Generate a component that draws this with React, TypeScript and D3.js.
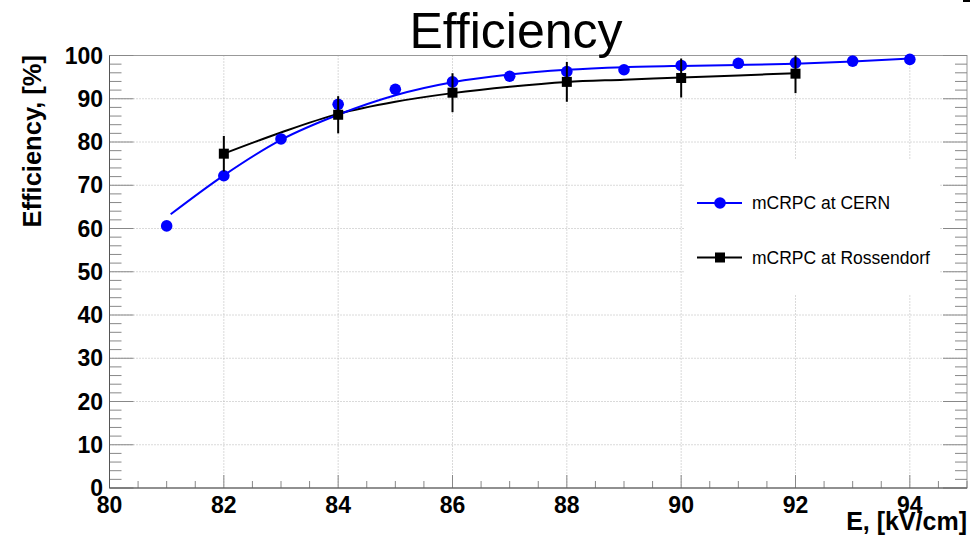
import { useEffect, useRef } from "react";
import * as d3 from "d3";

// CERN measurement (blue circles)
const cernField = [81, 82, 83, 84, 85, 86, 87, 88, 89, 90, 91, 92, 93, 94];
const cernEff = [60.6, 72.2, 80.7, 88.7, 92.2, 93.9, 95.2, 96.3, 96.7, 97.7, 98.2, 98.3, 98.7, 99.1];

// CERN fit curve
const cernFitField = [81.07, 82, 83, 84, 85, 86, 87, 88, 89, 90, 91, 92, 93, 94];
const cernFitEff = [63.3, 72.3, 80.5, 86.3, 90.8, 93.8, 95.6, 96.7, 97.3, 97.6, 97.8, 98.1, 98.6, 99.3];

// Rossendorf measurement (black squares)
const rossField = [82, 84, 86, 88, 90, 92];
const rossEff = [77.3, 86.3, 91.4, 93.9, 94.8, 95.8];
const rossErr = [4.1, 4.3, 4.5, 4.6, 4.5, 4.5];

// Rossendorf fit curve
const rossFitField = [82, 83, 84, 85, 86, 87, 88, 89, 90, 91, 92];
const rossFitEff = [77.3, 82.2, 86.5, 89.3, 91.3, 92.8, 93.9, 94.4, 94.9, 95.4, 95.9];

const xTicks = [80, 82, 84, 86, 88, 90, 92, 94];
const yTicks = [0, 10, 20, 30, 40, 50, 60, 70, 80, 90, 100];

const legendLabels = ["mCRPC at CERN", "mCRPC at Rossendorf"];

const W = 971;
const H = 540;

export default function App() {
  const svgRef = useRef(null);

  useEffect(() => {
    const svg = d3.select(svgRef.current);
    svg.selectAll("*").remove();

    const left = 109.5;
    const right = 967;
    const top = 55.5;
    const bottom = 488;

    const x = d3.scaleLinear().domain([80, 95]).range([left, right]);
    const y = d3.scaleLinear().domain([0, 100]).range([bottom, top]);

    const font = "'Liberation Sans', Arial, Helvetica, sans-serif";

    // grid
    const grid = svg.append("g").attr("stroke", "#b4b4b4").attr("stroke-dasharray", "1,2");
    xTicks.slice(1).forEach((t) => {
      grid.append("line").attr("x1", x(t)).attr("x2", x(t)).attr("y1", top).attr("y2", bottom);
    });
    yTicks.slice(1, -1).forEach((t) => {
      grid.append("line").attr("x1", left).attr("x2", right).attr("y1", y(t)).attr("y2", y(t));
    });

    // legend box (hides the grid behind it)
    svg
      .append("rect")
      .attr("x", 684)
      .attr("y", 160)
      .attr("width", 256)
      .attr("height", 135)
      .attr("fill", "white");

    // frame
    svg
      .append("rect")
      .attr("x", left)
      .attr("y", top)
      .attr("width", right - left)
      .attr("height", bottom - top)
      .attr("fill", "none")
      .attr("stroke", "#999");

    // ticks
    const ticks = svg.append("g").attr("stroke", "#888");
    d3.range(0, 101, 2).forEach((v) => {
      const len = v % 10 === 0 ? 24 : 12;
      ticks.append("line").attr("x1", left).attr("x2", left + len).attr("y1", y(v)).attr("y2", y(v));
      ticks.append("line").attr("x1", right).attr("x2", right - len).attr("y1", y(v)).attr("y2", y(v));
    });
    d3.range(80, 95.01, 0.5).forEach((v) => {
      const len = Math.abs(v % 2) < 1e-6 ? 13 : 7;
      ticks.append("line").attr("x1", x(v)).attr("x2", x(v)).attr("y1", bottom).attr("y2", bottom - len);
    });

    svg
      .append("line")
      .attr("x1", left)
      .attr("x2", right)
      .attr("y1", bottom)
      .attr("y2", bottom)
      .attr("stroke", "#555");
    svg
      .append("line")
      .attr("x1", left)
      .attr("x2", left)
      .attr("y1", top)
      .attr("y2", bottom)
      .attr("stroke", "#555");

    // tick labels
    svg
      .append("g")
      .selectAll("text")
      .data(yTicks)
      .join("text")
      .attr("x", 103)
      .attr("y", (d) => y(d) + 8)
      .attr("text-anchor", "end")
      .attr("font-family", font)
      .attr("font-weight", "bold")
      .attr("font-size", 23)
      .text((d) => d);

    svg
      .append("g")
      .selectAll("text")
      .data(xTicks)
      .join("text")
      .attr("x", (d) => x(d))
      .attr("y", 513)
      .attr("text-anchor", "middle")
      .attr("font-family", font)
      .attr("font-weight", "bold")
      .attr("font-size", 23)
      .text((d) => d);

    // axis titles
    svg
      .append("text")
      .attr("x", 967)
      .attr("y", 530)
      .attr("text-anchor", "end")
      .attr("font-family", font)
      .attr("font-weight", "bold")
      .attr("font-size", 25)
      .text("E, [kV/cm]");

    svg
      .append("text")
      .attr("transform", "translate(41,55) rotate(-90)")
      .attr("text-anchor", "end")
      .attr("font-family", font)
      .attr("font-weight", "bold")
      .attr("font-size", 25.5)
      .text("Efficiency, [%]");

    // title
    svg
      .append("text")
      .attr("x", 516)
      .attr("y", 48)
      .attr("text-anchor", "middle")
      .attr("font-family", font)
      .attr("font-size", 50)
      .text("Efficiency");

    // fit curves
    const line = d3
      .line()
      .x((d) => x(d[0]))
      .y((d) => y(d[1]))
      .curve(d3.curveMonotoneX);

    svg
      .append("path")
      .attr("d", line(d3.zip(rossFitField, rossFitEff)))
      .attr("fill", "none")
      .attr("stroke", "black")
      .attr("stroke-width", 2);

    svg
      .append("path")
      .attr("d", line(d3.zip(cernFitField, cernFitEff)))
      .attr("fill", "none")
      .attr("stroke", "#0000ff")
      .attr("stroke-width", 2);

    // CERN points
    svg
      .append("g")
      .selectAll("circle")
      .data(d3.zip(cernField, cernEff))
      .join("circle")
      .attr("cx", (d) => x(d[0]))
      .attr("cy", (d) => y(d[1]))
      .attr("r", 5.8)
      .attr("fill", "#0000ff");

    // Rossendorf points with error bars
    const ross = svg.append("g");
    rossField.forEach((f, i) => {
      ross
        .append("line")
        .attr("x1", x(f))
        .attr("x2", x(f))
        .attr("y1", y(Math.min(100, rossEff[i] + rossErr[i])))
        .attr("y2", y(rossEff[i] - rossErr[i]))
        .attr("stroke", "black")
        .attr("stroke-width", 2);
      ross
        .append("rect")
        .attr("x", x(f) - 5)
        .attr("y", y(rossEff[i]) - 5)
        .attr("width", 10)
        .attr("height", 10)
        .attr("fill", "black");
    });

    // legend entries
    const legend = svg.append("g");
    const rows = [203, 257.5];
    const colors = ["#0000ff", "black"];
    legendLabels.forEach((label, i) => {
      const ly = rows[i];
      legend
        .append("line")
        .attr("x1", 697)
        .attr("x2", 742)
        .attr("y1", ly)
        .attr("y2", ly)
        .attr("stroke", colors[i])
        .attr("stroke-width", 2);
      if (i === 0) {
        legend.append("circle").attr("cx", 720).attr("cy", ly).attr("r", 5.8).attr("fill", colors[i]);
      } else {
        legend
          .append("rect")
          .attr("x", 715)
          .attr("y", ly - 5)
          .attr("width", 10)
          .attr("height", 10)
          .attr("fill", colors[i]);
      }
      legend
        .append("text")
        .attr("x", 752)
        .attr("y", ly + 6)
        .attr("font-family", font)
        .attr("font-size", 17.5)
        .text(label);
    });

    // cut-off fragment at the top right corner
    svg.append("rect").attr("x", 963).attr("y", 0).attr("width", 7).attr("height", 2).attr("fill", "black");
  }, []);

  return (
    <svg
      ref={svgRef}
      width={W}
      height={H}
      style={{ position: "absolute", left: 0, top: 0, background: "white" }}
    ></svg>
  );
}
